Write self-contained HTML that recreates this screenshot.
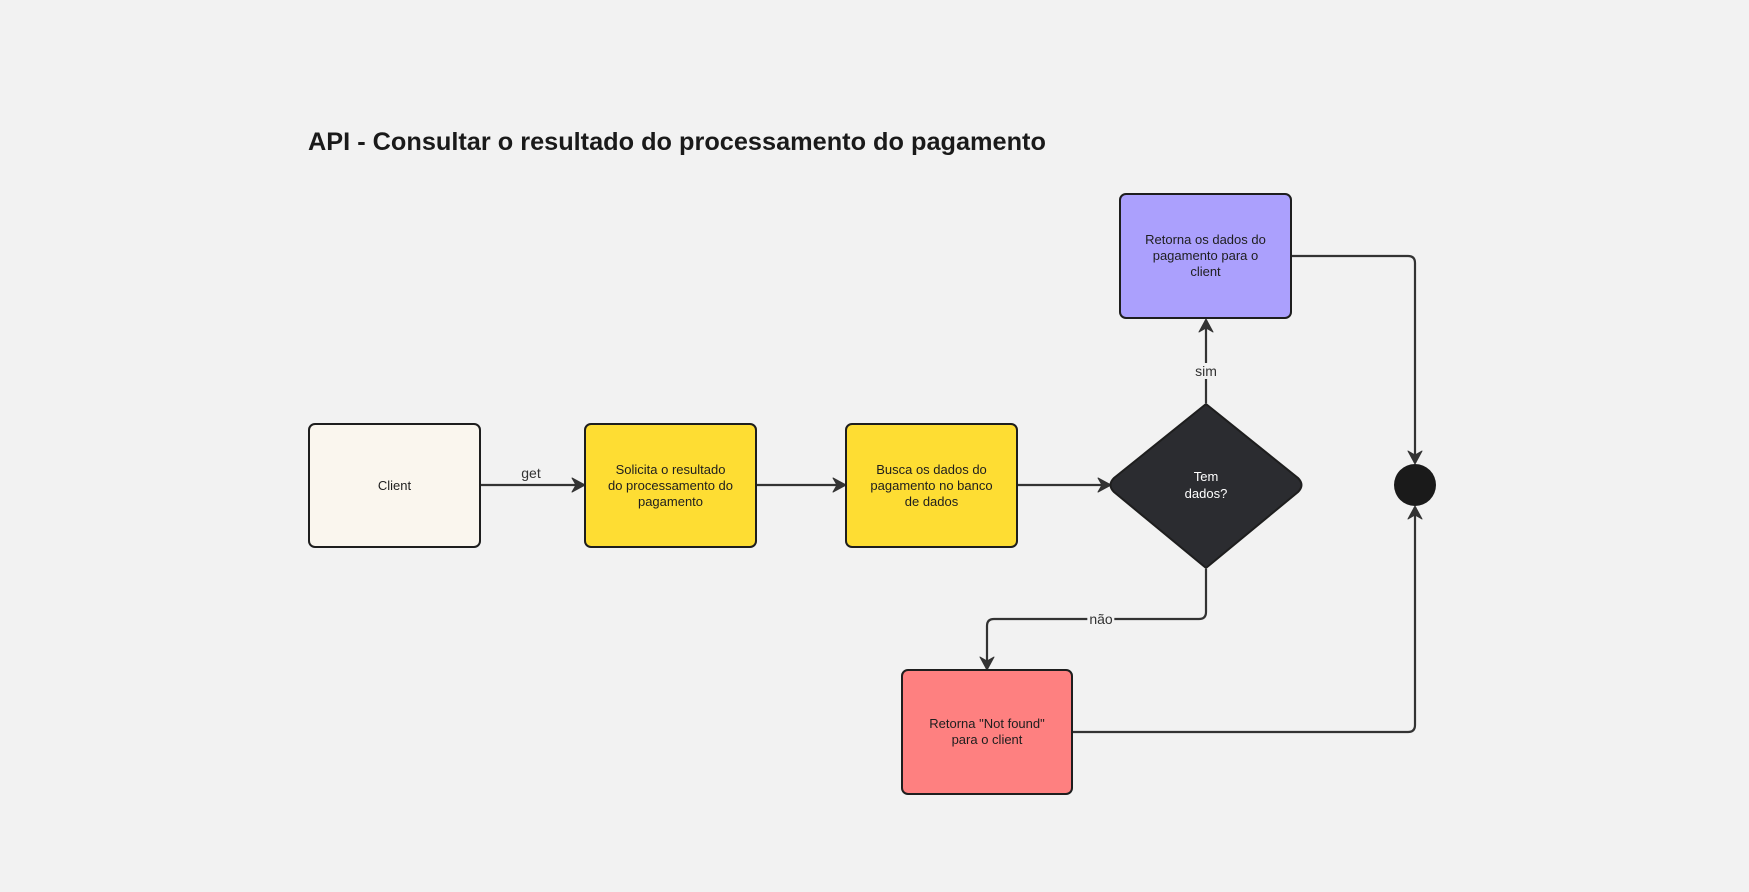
<!DOCTYPE html>
<html><head><meta charset="utf-8"><style>
html,body{margin:0;padding:0;background:#f2f2f2;}
body{width:1749px;height:892px;position:relative;overflow:hidden;font-family:"Liberation Sans",sans-serif;}
.t{position:absolute;left:308px;top:128px;font-size:25.3px;font-weight:bold;color:#1a1a1a;white-space:nowrap;}
.b{position:absolute;box-sizing:border-box;border:2px solid #1e1e1e;border-radius:7px;display:flex;align-items:center;justify-content:center;text-align:center;font-size:13px;line-height:16px;color:#1e1e1e;}
.l{position:absolute;font-size:14px;color:#333;background:#f2f2f2;padding:0 2px;transform:translate(-50%,-50%);}
</style></head><body>
<div class="t">API - Consultar o resultado do processamento do pagamento</div>
<svg width="1749" height="892" style="position:absolute;left:0;top:0">
<defs><marker id="a" markerWidth="16" markerHeight="16" refX="13" refY="8" orient="auto" markerUnits="userSpaceOnUse"><path d="M1,1 L14,8 L1,15 L5,8 Z" fill="#333" stroke="#333" stroke-width="1" stroke-linejoin="round"/></marker></defs>
<g stroke="#333" stroke-width="2.2" fill="none">
<line x1="481" y1="485" x2="584" y2="485" marker-end="url(#a)"/>
<line x1="757" y1="485" x2="845" y2="485" marker-end="url(#a)"/>
<line x1="1018" y1="485" x2="1110" y2="485" marker-end="url(#a)"/>
<line x1="1206" y1="403" x2="1206" y2="320" marker-end="url(#a)"/>
<path d="M1206 569 V612 Q1206 619 1199 619 H994 Q987 619 987 626 V669" marker-end="url(#a)"/>
<path d="M1292 256 H1408 Q1415 256 1415 263 V463" marker-end="url(#a)"/>
<path d="M1073 732 H1408 Q1415 732 1415 725 V507" marker-end="url(#a)"/>
</g>
<path d="M1206 404 L1298 478 Q1305 485 1298 492 L1206 568 L1114 492 Q1107 485 1114 478 Z" fill="#2b2c30" stroke="#1e1e1e" stroke-width="2"/>
<circle cx="1415" cy="485" r="21" fill="#1a1a1a"/>
<text x="1206" y="481" fill="#fff" font-family="Liberation Sans" font-size="13" text-anchor="middle">Tem</text>
<text x="1206" y="498" fill="#fff" font-family="Liberation Sans" font-size="13" text-anchor="middle">dados?</text>
</svg>
<div class="b" style="left:308px;top:423px;width:173px;height:125px;background:#faf6ee">Client</div>
<div class="b" style="left:584px;top:423px;width:173px;height:125px;background:#fedd33">Solicita o resultado<br>do processamento do<br>pagamento</div>
<div class="b" style="left:845px;top:423px;width:173px;height:125px;background:#fedd33">Busca os dados do<br>pagamento no banco<br>de dados</div>
<div class="b" style="left:1119px;top:193px;width:173px;height:126px;background:#aba0fd">Retorna os dados do<br>pagamento para o<br>client</div>
<div class="b" style="left:901px;top:669px;width:172px;height:126px;background:#fe8080">Retorna "Not found"<br>para o client</div>
<div class="l" style="left:531px;top:473px">get</div>
<div class="l" style="left:1206px;top:371px">sim</div>
<div class="l" style="left:1101px;top:619px">não</div>
</body></html>
